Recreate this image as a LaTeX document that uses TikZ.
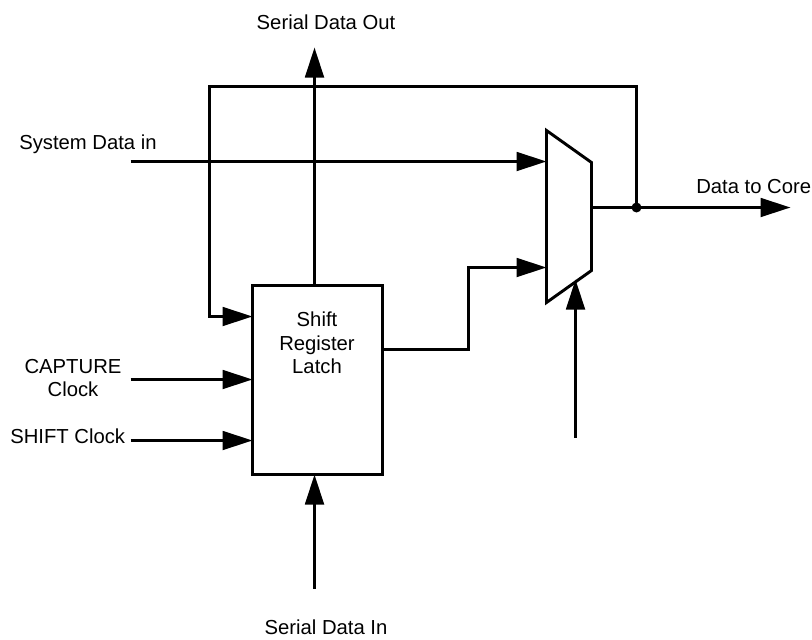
\documentclass[tikz,border=0pt]{standalone}
\usepackage{fontspec}
\setmainfont{Liberation Sans}
\usetikzlibrary{arrows.meta}
\begin{document}
\begin{tikzpicture}[x=0.75pt,y=-0.75pt,
  wire/.style={line width=2.2pt,line join=miter},
  sig/.style={wire,-{Triangle[length=22.5pt,width=14pt]}},
  lbl/.style={inner sep=0pt,font=\fontsize{15.2}{17.5}\selectfont,align=center,text=black},
  blockbox/.style={draw,line width=2.2pt,outer sep=0pt,minimum width=97.5pt,minimum height=141.75pt,inner sep=0pt,anchor=north west},
  junction/.style={circle,fill=black,inner sep=0pt,minimum size=7.5pt}]
\useasboundingbox (0,0) rectangle (812,639);
\begin{scope}[shift={(0.5,0.5)}]
% main block
\node[blockbox] (reg) at (252,285) {};
% multiplexer corners
\coordinate (mA) at (546,130);
\coordinate (mB) at (591,162);
\coordinate (mC) at (591,270);
\coordinate (mD) at (546,302);
\draw[wire,line join=miter] (mA) -- (mB) -- (mC) -- (mD) -- cycle;
% free ends and bends
\coordinate (sysIn) at (130,161);
\coordinate (sysEnd) at (546,161);
\coordinate (muxLow) at (546,267);
\coordinate (sel) at (575,437);
\coordinate (selEnd) at (575,279);
\coordinate (muxOut) at (591,207);
\coordinate (coreEnd) at (790,207);
\coordinate (outEnd) at (314,47);
\coordinate (inStart) at (314,588);
\coordinate (capStart) at (130,379);
\coordinate (capEnd) at (252,379);
\coordinate (shStart) at (130,440);
\coordinate (shEnd) at (252,440);
\coordinate (fbEnd) at (252,316);
\coordinate (regOut) at (382,349);
\coordinate (regTop) at (314,285);
\coordinate (regBot) at (314,474);
\node[junction] (dot) at (636,207) {};
% connectors
\draw[sig] (sysIn) -- (sysEnd);
\draw[sig] (regTop) -- (outEnd);
\draw[sig] (inStart) -- (regBot);
\draw[sig] (capStart) -- (capEnd);
\draw[sig] (shStart) -- (shEnd);
\draw[sig] (sel) -- (selEnd);
\draw[sig] (muxOut) -- (coreEnd);
\draw[sig] (regOut) -- (468,349) -- (468,267) -- (muxLow);
\draw[sig] (dot.center) -- (636,86) -- (209,86) -- (209,316) -- (fbEnd);
\end{scope}
% labels
\node[lbl] (regtext) at (317,343) {Shift\\Register\\Latch};
\node[lbl] (l1) at (326,22) {Serial Data Out};
\node[lbl,anchor=west] (l2) at (19,144) {System Data in};
\node[lbl,anchor=west] (l3) at (696,187) {Data to Core};
\node[lbl] (l4) at (73,378) {CAPTURE\\Clock};
\node[lbl,anchor=west] (l5) at (10,436) {SHIFT Clock};
\node[lbl] (l6) at (326,627) {Serial Data In};
\end{tikzpicture}
\end{document}
